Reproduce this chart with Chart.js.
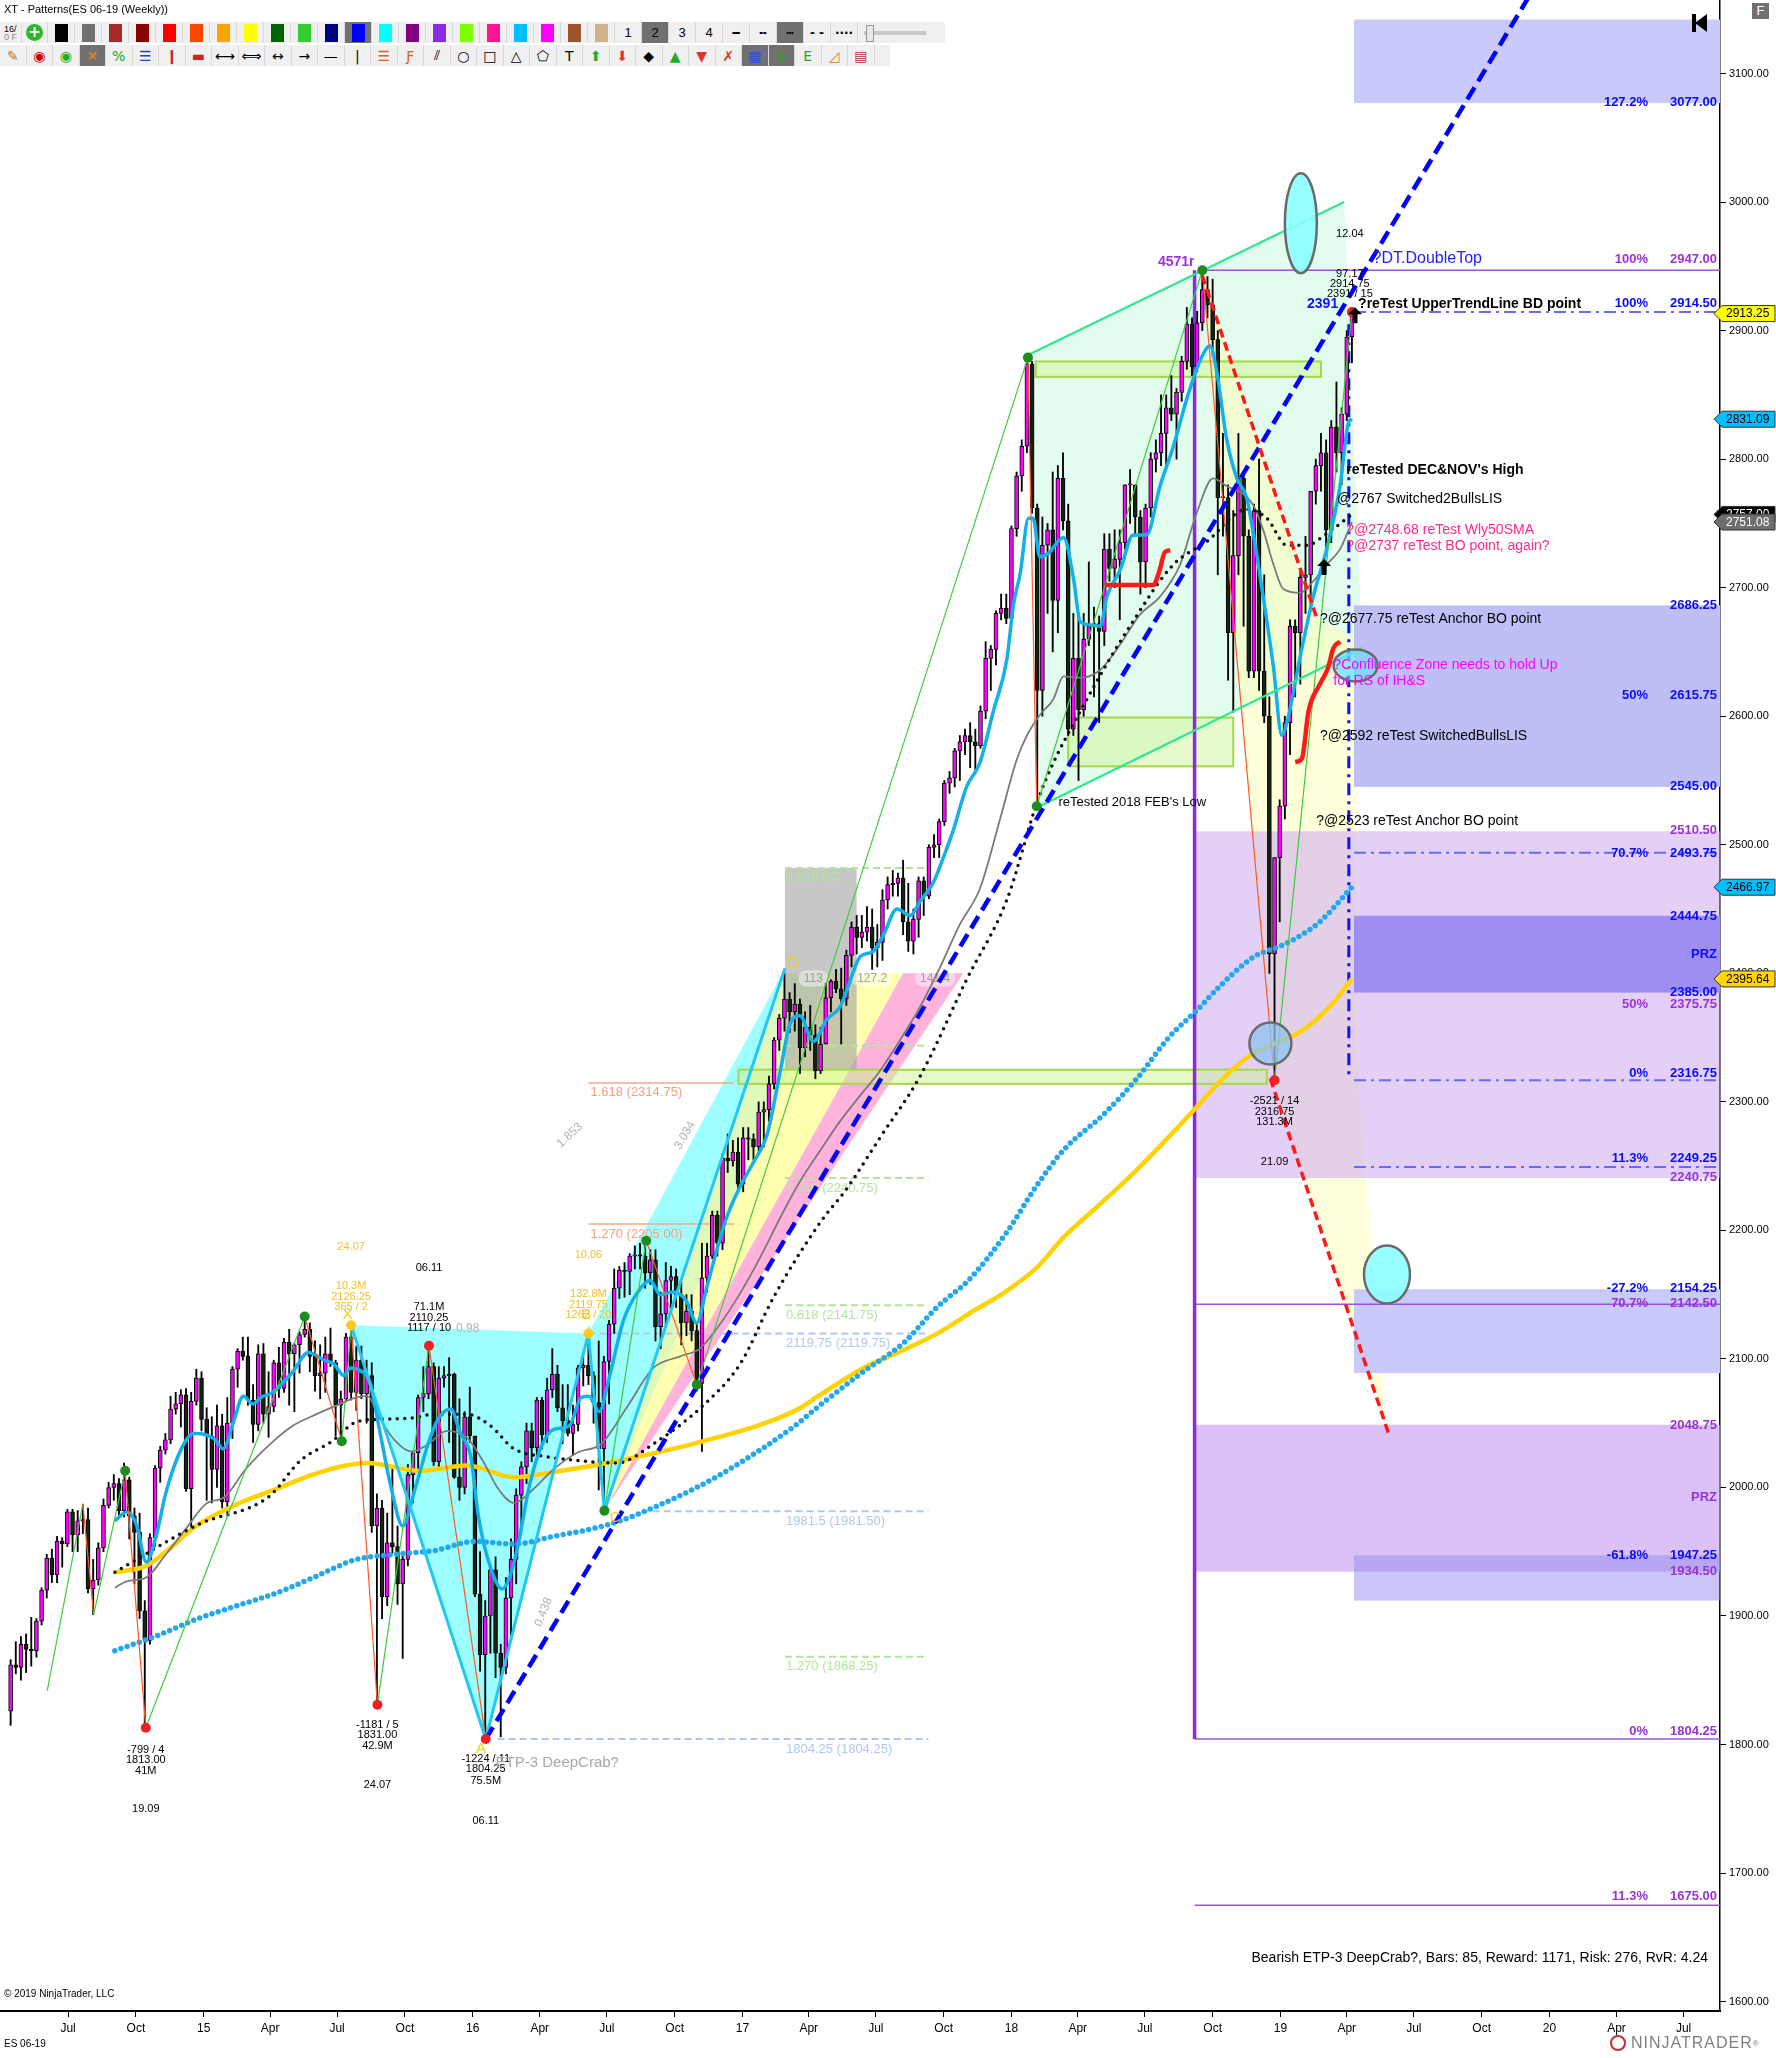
<!DOCTYPE html>
<html>
<head>
<meta charset="utf-8">
<title>XT - Patterns(ES 06-19 (Weekly))</title>
<script src="https://cdn.jsdelivr.net/npm/chart.js@4.4.1/dist/chart.umd.min.js"></script>
<style>
  html, body { margin: 0; padding: 0; background: #fff; }
  #page { position: relative; width: 1776px; height: 2058px; overflow: hidden; font-family: "Liberation Sans", Arial, sans-serif; }
  #chart { position: absolute; left: 0; top: 0; }
  #title { position: absolute; left: 4px; top: 3px; font-size: 11px; color: #000; }
  .row { position: absolute; left: 0; height: 21px; background: #f0f0f0; display: flex; align-items: center; }
  #row1 { top: 22px; width: 945px; }
  #row2 { top: 45px; width: 890px; }
  .cell { width: 27px; height: 21px; display: flex; align-items: center; justify-content: center; box-sizing: border-box; border-right: 1px solid #dadada; font-size: 14px; font-family: "DejaVu Sans", sans-serif; }
  .cell.sel { background: #707070; }
  .sw { width: 13px; height: 18px; }
  #slider { width: 72px; height: 21px; position: relative; }
  #slider .track { position: absolute; left: 6px; right: 4px; top: 9px; height: 4px; background: #c8c8c8; }
  #slider .thumb { position: absolute; left: 8px; top: 3px; width: 6px; height: 15px; background: #e8e8e8; border: 1px solid #999; }
  #navk { position: absolute; left: 1690px; top: 13px; width: 20px; height: 20px; }
  #navk .bar { position: absolute; left: 2px; top: 1px; width: 4px; height: 18px; background: #000; }
  #navk .tri { position: absolute; left: 5px; top: 1px; width: 0; height: 0; border-top: 9px solid transparent; border-bottom: 9px solid transparent; border-right: 12px solid #000; }
  #fbox { position: absolute; left: 1752px; top: 3px; width: 17px; height: 16px; background: #707070; color: #fff; font-size: 13px; text-align: center; line-height: 16px; }
  #copy { position: absolute; left: 4px; top: 1988px; font-size: 10px; color: #000; }
  #inst { position: absolute; left: 4px; top: 2038px; font-size: 10px; color: #000; }
  #logo { position: absolute; left: 1610px; top: 2034px; display: flex; align-items: center; color: #808080; font-size: 16px; letter-spacing: 1px; }
  #logo .ring { width: 12px; height: 12px; border: 2px solid #c03030; border-radius: 50%; margin-right: 5px; }
</style>
</head>
<body>
<div id="page">
  <canvas id="chart" width="1776" height="2058"></canvas>
  <div id="title">XT - Patterns(ES 06-19 (Weekly))</div>
  <div class="row" id="row1"></div>
  <div class="row" id="row2"></div>
  <div id="navk"><div class="bar"></div><div class="tri"></div></div>
  <div id="fbox">F</div>
  <div id="copy">© 2019 NinjaTrader, LLC</div>
  <div id="inst">ES 06-19</div>
  <div id="logo"><div class="ring"></div>NINJATRADER<sup style="font-size:8px">®</sup></div>
</div>
<script>
// weekly bars [open, high, low, close]; first bar = week of 14 Apr 2014
const bars2014 = [
  [1826,1866,1815,1862],[1862,1880,1855,1860],[1860,1884,1850,1878],[1878,1886,1856,1874],
  [1874,1899,1861,1873],[1873,1898,1868,1896],[1896,1922,1893,1920],[1920,1948,1914,1945],
  [1945,1952,1926,1932],[1932,1962,1926,1958],[1958,1961,1938,1956],[1956,1983,1954,1981],
  [1981,1983,1950,1963],[1963,1982,1950,1974],[1974,1987,1964,1975],[1975,1984,1918,1921],
  [1921,1944,1901,1928],[1928,1957,1924,1953],[1953,1991,1950,1986],[1986,2004,1984,2000],
  [2000,2010,1990,2003],[2003,2007,1977,1982],[1982,2019,1977,2006],[2006,2008,1960,1978],
  [1978,1984,1925,1965],[1965,1980,1898,1904],[1904,1912,1813,1881],[1881,1964,1878,1961],
  [1961,2017,1954,2015],[2015,2032,2004,2029],[2029,2042,2026,2037],[2037,2071,2034,2061],
  [2061,2074,2057,2065],[2065,2076,2047,2072],[2072,2077,1997,1999],[1999,2074,1969,2067],
  [2067,2092,2064,2085],[2085,2090,2044,2053]
];
const bars2015 = [
  [2053,2062,1990,2040],[2040,2055,1988,2014],[2014,2064,2000,2048],[2048,2057,1984,1989],
  [1989,2070,1980,2050],[2050,2094,2038,2092],[2092,2108,2078,2106],[2106,2117,2099,2102],
  [2102,2117,2064,2068],[2068,2080,2035,2049],[2049,2111,2044,2104],[2104,2112,2050,2057],
  [2057,2090,2039,2063],[2063,2099,2059,2097],[2097,2109,2070,2077],[2077,2116,2074,2113],
  [2113,2123,2064,2104],[2104,2112,2059,2111],[2111,2121,2089,2119],[2119,2133,2117,2123],
  [2123,2128,2090,2102],[2102,2114,2075,2087],[2087,2111,2069,2089],[2089,2117,2074,2104],
  [2104,2124,2094,2097],[2097,2099,2040,2064],[2064,2075,2035,2069],[2069,2120,2067,2117],
  [2117,2126.25,2068,2074],[2074,2110,2060,2099],[2099,2110,2069,2073],[2073,2099,2050,2087],
  [2087,2097,1965,1970],[1970,1995,1831,1984],[1984,1990,1898,1915],[1915,1980,1908,1957],
  [1957,2015,1949,1954],[1954,1970,1909,1925],[1925,1950,1867,1944],[1944,2018,1939,2010],
  [2010,2028,1988,2027],[2027,2072,2014,2070],[2070,2094,2059,2073],[2073,2110.25,2069,2094],
  [2094,2097,2017,2020],[2020,2094,2014,2085],[2085,2094,2078,2087],[2087,2101,2035,2088],
  [2088,2089,2007,2008],[2008,2069,1990,2000],[2000,2059,1995,2055],[2055,2078,2035,2040]
];
const bars2016 = [
  [2040,2040,1915,1917],[1917,1950,1857,1870],[1870,1912,1804.25,1900],[1900,1940,1871,1936],
  [1936,1946,1852,1871],[1871,1878,1806,1860],[1860,1930,1855,1914],[1914,1960,1885,1944],
  [1944,1999,1925,1994],[1994,2020,1968,2016],[2016,2050,2003,2044],[2044,2050,2020,2031],
  [2031,2070,2021,2068],[2068,2070,2030,2041],[2041,2085,2035,2076],[2076,2108,2070,2088],
  [2088,2095,2059,2062],[2062,2080,2034,2052],[2052,2080,2040,2042],[2042,2064,2025,2049],
  [2049,2095,2044,2093],[2093,2102,2079,2095],[2095,2119.75,2080,2087],[2087,2090,2050,2066],
  [2066,2114,1998,2030],[2030,2102,1982,2098],[2098,2130,2065,2127],[2127,2170,2120,2155],
  [2155,2172,2147,2169],[2169,2175,2148,2168],[2168,2182,2150,2180],[2180,2188,2170,2181],
  [2181,2190,2170,2180],[2180,2190,2155,2167],[2167,2185,2158,2177],[2177,2185,2114,2125],
  [2125,2152,2108,2135],[2135,2175,2125,2161],[2161,2172,2139,2164],[2164,2170,2140,2150],
  [2150,2160,2111,2128],[2128,2150,2118,2137],[2137,2150,2114,2122],[2122,2128,2075,2081],
  [2081,2190,2028,2163],[2163,2190,2152,2180],[2180,2215,2178,2212],[2212,2215,2180,2190],
  [2190,2260,2185,2256],[2256,2275,2245,2254],[2254,2270,2250,2261],[2261,2272,2230,2236]
];
const bars2017 = [
  [2236,2280,2230,2272],[2272,2280,2255,2271],[2271,2275,2255,2265],[2265,2300,2260,2292],
  [2292,2300,2265,2294],[2294,2320,2285,2314],[2314,2350,2310,2348],[2348,2368,2340,2365],
  [2365,2400,2355,2380],[2380,2385,2354,2370],[2370,2392,2355,2376],[2376,2380,2322,2342],
  [2342,2370,2335,2358],[2358,2375,2340,2352],[2352,2360,2318,2324],[2324,2358,2322,2345],
  [2345,2392,2345,2381],[2381,2395,2370,2394],[2394,2403,2385,2388],[2388,2404,2345,2380],
  [2380,2418,2375,2414],[2414,2440,2405,2436],[2436,2445,2415,2428],[2428,2445,2420,2432],
  [2432,2452,2425,2436],[2436,2450,2403,2420],[2420,2438,2405,2424],[2424,2465,2410,2457],
  [2457,2475,2450,2469],[2469,2480,2460,2470],[2470,2478,2460,2474],[2474,2488,2430,2440],
  [2440,2470,2417,2425],[2425,2450,2415,2442],[2442,2475,2428,2472],[2472,2475,2445,2460],
  [2460,2500,2458,2498],[2498,2508,2490,2500],[2500,2520,2490,2518],[2518,2550,2515,2548],
  [2548,2557,2540,2552],[2552,2575,2545,2573],[2573,2585,2550,2580],[2580,2590,2570,2585],
  [2585,2595,2560,2580],[2580,2590,2555,2577],[2577,2608,2575,2604],[2604,2658,2598,2645],
  [2645,2655,2620,2652],[2652,2682,2640,2680],[2680,2695,2675,2684],[2684,2695,2672,2676]
];
const bars2018 = [
  [2676,2748,2672,2746],[2746,2790,2740,2787],[2787,2815,2775,2810],[2810,2878.5,2805,2874],
  [2874,2876,2758,2762],[2762,2765,2529,2620],[2620,2755,2600,2733],[2733,2750,2680,2745],
  [2745,2790,2650,2690],[2690,2795,2665,2785],[2785,2805,2745,2752],[2752,2765,2585,2590],
  [2590,2680,2585,2645],[2645,2680,2550,2605],[2605,2680,2600,2660],[2660,2720,2655,2670],
  [2670,2685,2615,2672],[2672,2678,2595,2666],[2666,2742,2655,2730],[2730,2742,2705,2715],
  [2715,2745,2700,2722],[2722,2745,2675,2735],[2735,2780,2730,2780],[2780,2792,2750,2780],
  [2780,2780,2740,2755],[2755,2760,2695,2720],[2720,2765,2700,2762],[2762,2805,2755,2800],
  [2800,2815,2790,2805],[2805,2850,2795,2820],[2820,2850,2795,2840],[2840,2865,2830,2835],
  [2835,2855,2800,2852],[2852,2880,2845,2876],[2876,2918,2870,2905],[2905,2910,2865,2872],
  [2872,2915,2868,2906],[2906,2947,2900,2932],[2932,2942,2910,2920],[2920,2940,2880,2893],
  [2893,2900,2710,2770],[2770,2820,2740,2770],[2770,2780,2628,2665],[2665,2760,2603,2725],
  [2725,2820,2710,2785],[2785,2790,2670,2740],[2740,2745,2630,2635],[2635,2765,2630,2760],
  [2760,2800,2620,2635],[2635,2710,2595,2600],[2600,2615,2400,2415],[2415,2490,2316.75,2490],
  [2490,2535,2440,2530]
];
const bars2019 = [
  [2530,2600,2520,2595],[2595,2675,2570,2670],[2670,2675,2615,2665],[2665,2715,2625,2708],
  [2708,2740,2680,2710],[2710,2775,2685,2775],[2775,2800,2765,2795],[2795,2820,2775,2805],
  [2805,2815,2725,2745],[2745,2830,2735,2825],[2825,2860,2790,2805],[2805,2840,2780,2835],
  [2835,2900,2830,2895],[2895,2914.5,2875,2913.25]
];

// indicator lines: [week, value]
const cyanAvg = [[20.2,1974],[22.5,1981],[24.4,1971],[26.3,1942],[28.2,1962],[30.1,1996],[33.2,2031],[35.5,2042],[37.8,2041],[39.7,2037],[41.2,2030],[43.2,2051],[45.1,2071],[47,2065],[48.5,2070],[50.8,2074],[54.7,2090],[57.7,2105],[60.8,2099],[62.7,2096],[64.6,2087],[65.8,2093],[67.7,2091],[69.6,2082],[71.5,2045],[73.8,1999],[76,1970],[78.4,1999],[81.1,2036],[83,2054],[85.3,2061],[87.2,2042],[89.2,2024],[90.7,1977],[93,1938],[95.3,1921],[96.8,1931],[98.4,1956],[100.6,2002],[103,2033],[105.2,2045],[108.3,2048],[110.6,2070],[112.1,2071],[114.1,2059],[116,2085],[118.8,2130],[121.4,2151],[124,2161],[125.9,2150],[128.5,2152],[131,2145],[133,2128],[134.9,2155],[136.9,2185],[138.8,2210],[141.4,2234],[144,2253],[146.6,2274],[149.2,2324],[151.1,2361],[153,2367],[155.6,2347],[158.2,2364],[160.8,2374],[162.7,2394],[164.7,2413],[167.2,2417],[169.2,2430],[171.8,2450],[174.4,2445],[176.3,2456],[178.9,2471],[180.8,2490],[182.7,2511],[185.3,2545],[187.9,2564],[190.5,2604],[193.1,2644],[194.4,2687],[195.7,2711],[197.3,2754],[198.2,2754],[199.5,2724],[201.2,2727],[204.1,2739],[206,2708],[207.3,2674],[209.2,2671],[211.2,2670],[212.5,2693],[215.1,2714],[217.6,2741],[220.2,2741],[222.8,2779],[225.4,2810],[228,2847],[230.6,2877],[232.5,2888],[233.8,2868],[235.7,2816],[237.7,2785],[239.6,2770],[240.9,2742],[242.8,2693],[244.8,2638],[246.4,2585],[247.4,2595],[250,2647],[252.5,2693],[255.1,2730],[257.7,2779],[259.3,2828],[260,2831.09]];
const grayAvg = [[20.2,1922],[22.5,1927],[26.3,1930],[30.1,1948],[34,1968],[37.8,1987],[41.6,1993],[45.5,2014],[50.1,2033],[54.7,2048],[59.3,2057],[63.9,2065],[67,2070],[69.2,2071],[71.5,2054],[74.6,2036],[77.7,2028],[80.7,2033],[84.6,2044],[88.4,2039],[91.5,2021],[94.5,1999],[97.6,1988],[101.4,1999],[105.2,2014],[109.8,2027],[114.5,2034],[119.4,2062],[124.6,2093],[129.8,2102],[133.6,2108],[137.5,2127],[141.4,2151],[145.3,2179],[149.2,2210],[153,2238],[156.9,2262],[160.8,2285],[164.7,2305],[168.5,2324],[172.4,2348],[176.3,2374],[180.2,2405],[184,2438],[187.9,2466],[191.8,2520],[195,2566],[197,2585],[199.5,2601],[202.1,2613],[204.1,2631],[207.3,2630],[211.2,2636],[215.1,2656],[218.9,2679],[222.8,2693],[226.7,2718],[229.9,2758],[233.1,2785],[235.7,2779],[238.9,2773],[240.9,2764],[242.8,2745],[244.8,2718],[246.7,2699],[250,2696],[252.5,2705],[255.1,2718],[257.7,2730],[260,2751.08]];
const blackDotAvg = [[20.2,1934],[36.3,1971],[50.1,1993],[56.2,2021],[62.3,2036],[67,2051],[71.5,2053],[77.7,2054],[82.3,2057],[88.4,2057],[93,2048],[97.6,2030],[103.7,2024],[109.8,2021],[117.5,2019],[125,2035],[134.3,2064],[141.4,2096],[147.9,2148],[156.9,2206],[162,2232],[168.5,2272],[176.3,2320],[185.3,2395],[193.1,2457],[199.5,2539],[208.6,2613],[217.6,2674],[225.4,2718],[231.9,2736],[239.6,2761],[243.5,2754],[247.4,2733],[251.2,2733],[255.1,2742],[260,2757]];
const cyanDotAvg = [[20.2,1873],[28.6,1885],[36.3,1898],[43.9,1908],[51.6,1918],[59.3,1931],[67,1944],[74.6,1948],[82.3,1951],[89.9,1958],[97.6,1956],[105.2,1962],[112.9,1968],[118.1,1974],[125,1985],[133,2000],[140.1,2016],[151.7,2047],[156.9,2064],[165.3,2090],[173.1,2112.5],[179.5,2140],[186,2162.5],[193.1,2198.6],[198.9,2234.8],[204.1,2262.5],[211.8,2290],[218.3,2318],[224.7,2351],[229.9,2371],[234.4,2390],[240.9,2412.6],[246,2421],[249,2427],[253.5,2439],[260,2466.97]];
const goldAvg = [[20.2,1934],[26.3,1939],[30.1,1950],[36.3,1971],[43.9,1987],[51.6,1999],[59.3,2011],[69.2,2019],[79.2,2013],[88.4,2017],[97.6,2008],[106.8,2013],[118.1,2021],[134.3,2036],[151.7,2059],[156.9,2072],[165.3,2093],[173.1,2107],[179.5,2119.5],[187.3,2139],[192.4,2151],[198.9,2171],[204.1,2194.5],[210.5,2218],[217,2242],[224.1,2271],[229.9,2296],[235.7,2321],[240.9,2337.5],[246,2347],[249.8,2354],[255.7,2374],[260,2395.64]];

// swing points (zigzag) and drawn objects, in [week, price]
const zigzag = [[7.1,1842],[14,1987],[16.1,1901],[22.2,2013],[26.2,1813],[57,2133],[64.2,2036],[66,2126.25],[71.1,1831],[81.1,2110.25],[92.1,1804.25],[112,2119.75],[115.1,1982],[123.2,2192],[133,2080],[197.2,2879],[198.9,2530],[231,2947],[245,2316.75],[260,2914.5]];
const crabLegs = [[66,2126.25],[92.1,1804.25],[112,2119.75],[115.1,1982],[150.1,2404]];
const trendLine = [[92.1,1804.25],[300,3198]];
const channelUpper = [[197.2,2881],[258.5,3000]];
const channelLower = [[199.5,2530],[262,2653]];
const redDash1 = [[231,2942.7],[253.1,2677.3]];
const redDash2 = [[244.2,2318],[267.1,2042]];
const redCurve1 = [[212.1,2702],[218,2702],[221.5,2702],[222.6,2712],[223.8,2728],[224.8,2729]];
const redCurve2 = [[249,2564.4],[250.3,2567],[251.6,2604],[253.8,2625],[255.4,2638],[256.4,2653],[257.7,2658]];
const greenDots = [[22.2,2013],[57,2133],[64.2,2036],[115.1,1982],[123.2,2192],[133,2080],[197.2,2879],[198.9,2530],[231,2947]];
const redDots = [[26.2,1813],[71.1,1831],[81.1,2110.25],[92.1,1804.25],[245,2316.75],[260,2914.5]];
const yellowDots = [[66,2126.25],[112,2119.75]];

const mintChannel = [[197.2,2881],[258.5,3000],[262,2653],[199.5,2530]];
const paleArea = [[231,2947],[253.1,2677.3],[260.3,2660],[261.2,2316.75],[266.7,2044],[245,2316.75]];
const fanTop = 2400;
const fanTips = [[150.1,158.5],[158.5,173],[173,184.7]];
const fanLabels = [[155.6,'113'],[167,'127.2'],[179.2,'141.4']];
const grayBox = [150.1,164,2482,2325];
const supplyBoxes = [[198.7,254,2876,2864],[205,237,2599,2561],[141.1,243.5,2325,2314]];
// [startWeek, upper, lower, kind]
const zones = [
  [260.4,3142,3077,'blue'],[260.4,2686.25,2545,'blue2'],[229.5,2510.5,2240.75,'purple'],
  [260.4,2444.75,2385,'prz'],[260.4,2154.25,2089,'blue'],[229.5,2048.75,1934.5,'purple2'],
  [260.4,1947.25,1912,'blue3']
];
// [startWeek, price, kind]
const levelLines = [[231,2947,'purple'],[260.4,2914.5,'dashdot'],[260.4,2493.75,'dashdot'],[260.4,2316.75,'dashdot'],[260.4,2249.25,'dashdot'],[229.5,2142.5,'purple'],[229.5,1804.25,'purple'],[229.5,1675,'purple']];
// [percent, value, price, colour kind]
const levelLabels = [
  ['127.2%','3077.00',3077.5,'b'],['100%','2947.00',2955,'p'],['100%','2914.50',2921,'b'],
  ['','2686.25',2686.5,'b'],['50%','2615.75',2616,'b'],['','2545.00',2545.5,'b'],
  ['','2510.50',2510.8,'p'],['70.7%','2493.75',2493.5,'b'],['','2444.75',2444.5,'b'],
  ['','PRZ',2415,'b'],['','2385.00',2385.2,'b'],['50%','2375.75',2376,'p'],
  ['0%','2316.75',2322,'b'],['11.3%','2249.25',2255.6,'b'],['','2240.75',2241,'p'],
  ['-27.2%','2154.25',2154.5,'b'],['70.7%','2142.50',2143,'p'],['','2048.75',2048.3,'p'],
  ['','PRZ',1992,'p'],['-61.8%','1947.25',1947,'b'],['','1934.50',1935,'p'],
  ['0%','1804.25',1810.3,'p'],['11.3%','1675.00',1681.7,'p']
];
// [fromWeek, toWeek, price, label, kind]
const fibLines = [
  [150.1,177.9,2482,'3.618 BC','g'],[150.1,177.9,2343.7,'','g'],[150.1,177.9,2240.75,'0.786 (2240.75)','g'],
  [150.1,177.9,2141.75,'0.618 (2141.75)','g'],[112,177.9,2119.75,'2119.75 (2119.75)','l'],
  [122.3,177.9,1981.5,'1981.5 (1981.50)','l'],[150.1,177.9,1868.25,'1.270 (1868.25)','g'],
  [94.4,177.9,1804.25,'1804.25 (1804.25)','l'],[112,140.2,2314.75,'1.618 (2314.75)','s'],
  [112,140.2,2205,'1.270 (2205.00)','s']
];
// [week, price, text, style]
const notes = [
  [258.9,2791.6,"reTested DEC&NOV's High",'bold'],[257.1,2769,'@2767 Switched2BullsLIS','plain'],
  [258.9,2744.7,'?@2748.68 reTest Wly50SMA','pink'],[258.9,2732.4,'?@2737 reTest BO point, again?','pink'],
  [253.8,2675.2,'?@2677.75 reTest Anchor BO point','plain'],[256.4,2639.5,'?Confluence Zone needs to hold Up','magenta'],
  [256.4,2627.2,'for RS of IH&S','magenta'],[253.8,2584.3,'?@2592 reTest SwitchedBullsLIS','plain'],
  [253.1,2518,'?@2523 reTest Anchor BO point','plain'],[203.1,2533.3,"reTested 2018 FEB's Low",'small'],
  [264,2956,'?DT.DoubleTop','blue'],[261.2,2920.3,'?reTest UpperTrendLine BD point','bold'],
  [251.3,2920.3,'2391','blueBold'],[222.4,2953,'4571r','purpleBold'],[94,1785.8,'ETP-3 DeepCrab?','gray']
];
// swing captions [week, colour kind, [price, text]...]
const swingCaptions = [
  [26.2,'k',[[1796,'-799 / 4'],[1787.9,'1813.00'],[1779.7,'41M'],[1750.1,'19.09']]],
  [71.1,'k',[[1815.5,'-1181 / 5'],[1807.3,'1831.00'],[1799.1,'42.9M'],[1768.5,'24.07']]],
  [92.1,'k',[[1788.9,'-1224 / 11'],[1780.7,'1804.25'],[1771.5,'75.5M'],[1740.9,'06.11']]],
  [81.1,'k',[[2140.2,'71.1M'],[2132,'2110.25'],[2123.8,'1117 / 10'],[2170.8,'06.11']]],
  [66,'y',[[2156.5,'10.3M'],[2148.3,'2126.25'],[2140.2,'365 / 2'],[2187.1,'24.07']]],
  [112,'y',[[2150.4,'132.8M'],[2142.2,'2119.75'],[2134,'1262 / 20'],[2181,'10.06']]],
  [245,'k',[[2300.5,'-2521 / 14'],[2292.3,'2316.75'],[2284.1,'131.3M'],[2253.5,'21.09']]],
  [259.6,'k',[[2975.4,'12.04'],[2944,'97.17'],[2936.6,'2914.75'],[2928.5,'2391 / 15']]]
];
const patternLetters = [[65.3,2134,'X'],[91.2,1797,'A'],[111.6,2134,'B'],[117.2,1976,'C'],[151.7,2408,'D']];
// [week, price, radiusX, radiusY, kind]
const ellipses = [[250.1,2983.6,16,50,'cyan'],[260.7,2639.5,22,16,'sky'],[244.2,2345.4,21,21,'pale'],[266.8,2165.7,23,29,'cyan']];
const priceTags = [[2913.25,'#ffff00','#000'],[2831.09,'#00bfff','#000'],[2757.00,'#000000','#fff'],[2751.08,'#6e6e6e','#fff'],[2466.97,'#00bfff','#000'],[2395.64,'#ffd700','#000']];

const tickLabels = ['Jul','Oct','15','Apr','Jul','Oct','16','Apr','Jul','Oct','17','Apr','Jul','Oct','18','Apr','Jul','Oct','19','Apr','Jul','Oct','20','Apr','Jul'];
const priceTicks = [1600,1700,1800,1900,2000,2100,2200,2300,2400,2500,2600,2700,2800,2900,3000,3100];

const W0 = Date.UTC(2014, 3, 14);
const WEEK = 7 * 864e5;
const tickWeeks = tickLabels.map((_, k) => (Date.UTC(2014, 6 + 3 * k, 1) - W0) / WEEK);
const X_MIN = -2.06, X_MAX = 331.35, Y_MIN = 1592.7, Y_MAX = 3157.2;

const bars = [].concat(bars2014, bars2015, bars2016, bars2017, bars2018, bars2019);
const pts = arr => arr.map(([x, y]) => ({x, y}));
const FONT = (size, bold) => (bold ? 'bold ' : '') + size + 'px "Liberation Sans", Arial, sans-serif';

// ---------- toolbar ----------
(function buildToolbar() {
  const r1 = document.getElementById('row1');
  const r2 = document.getElementById('row2');
  const add = (row, html, cls, w) => {
    const d = document.createElement('div');
    d.className = 'cell' + (cls ? ' ' + cls : '');
    if (w) d.style.width = w + 'px';
    d.innerHTML = html;
    row.appendChild(d);
  };
  add(r1, '<span style="font-size:9px;font-family:Liberation Sans;line-height:8px">16/<br><span style="color:#888">0 F</span></span>', '', 22);
  add(r1, '<span style="display:inline-block;width:17px;height:17px;border-radius:50%;background:#2db52d;color:#fff;font-size:15px;line-height:17px;text-align:center;font-weight:bold">+</span>', '', 26);
  ['#000','#707070','#a52a2a','#8b0000','#ff0000','#ff4500','#ffa500','#ffff00','#006400','#32cd32','#000080','#0000ff','#00ffff','#800080','#8a2be2','#7fff00','#ff1493','#00bfff','#ff00ff','#a0522d','#d2b48c']
    .forEach((c, i) => add(r1, '<div class="sw" style="background:' + c + '"></div>', i === 11 ? 'sel' : ''));
  ['1','2','3','4'].forEach((n, i) => add(r1, '<span style="font-family:Liberation Sans;font-size:13px">' + n + '</span>', i === 1 ? 'sel' : ''));
  ['━','╍','┅','- -','····'].forEach((s, i) => add(r1, '<span style="font-size:12px;font-weight:bold">' + s + '</span>', i === 2 ? 'sel' : ''));
  const sl = document.createElement('div');
  sl.id = 'slider';
  sl.innerHTML = '<div class="track"></div><div class="thumb"></div>';
  r1.appendChild(sl);
  const icons = [
    ['✎','#c07830'],['◉','#c00'],['◉','#2a2'],['✕','#f08020','sel'],['%','#1a1'],['☰','#2040c0'],['❙','#d02020'],['▬','#d02020'],
    ['⟷','#000'],['⟺','#000'],['↔','#000'],['→','#000'],['—','#000'],['|','#000'],['☰','#e06020'],['Ƒ','#e06020'],
    ['⫽','#000'],['○','#000'],['□','#000'],['△','#000'],['⬠','#000'],['T','#000'],['⬆','#2a2'],['⬇','#e03030'],
    ['◆','#000'],['▲','#2a2'],['▼','#e03030'],['✗','#e03030'],['▦','#3050d0','sel'],['$','#2a2','sel'],['Ε','#20a040'],['◿','#e08020'],['▤','#c03030']
  ];
  icons.forEach(([g, c, s]) => add(r2, '<span style="color:' + c + '">' + g + '</span>', s || '', 26.5));
})();

// ---------- drawing layer ----------
function path(ctx, P, list) {
  ctx.beginPath();
  list.forEach(([w, p], i) => { const [xx, yy] = P(w, p); if (i) ctx.lineTo(xx, yy); else ctx.moveTo(xx, yy); });
  ctx.closePath();
}
function text(ctx, s, xx, yy, font, color, align) {
  ctx.font = font; ctx.fillStyle = color; ctx.textAlign = align || 'left'; ctx.textBaseline = 'middle';
  ctx.fillText(s, xx, yy);
}

const zoneColors = { blue: '#c9c9fa', blue2: '#bfbff8', purple: 'rgba(205,170,240,0.55)', prz: '#9d8ef3', purple2: 'rgba(200,160,240,0.65)', blue3: 'rgba(150,140,240,0.5)' };
const fanColors = ['rgba(200,245,140,0.6)', 'rgba(255,255,150,0.75)', 'rgba(255,160,210,0.8)'];
const noteStyles = {
  bold: [FONT(14, true), '#000'], plain: [FONT(14), '#000'], pink: [FONT(14), '#ff2a8a'], magenta: [FONT(14), '#ff00ff'],
  small: [FONT(13), '#000'], blue: [FONT(16), '#2020ff'], blueBold: [FONT(14, true), '#1010ff'], purpleBold: [FONT(14, true), '#9932e0'],
  gray: [FONT(15), '#a8a8a8']
};

const drawingLayer = {
  id: 'drawingLayer',
  beforeDatasetsDraw(chart) {
    const {ctx, chartArea: a, scales: {x, y}} = chart;
    const P = (w, p) => [x.getPixelForValue(w), y.getPixelForValue(p)];
    ctx.save();
    ctx.beginPath(); ctx.rect(a.left, a.top, a.right - a.left, a.bottom - a.top); ctx.clip();

    path(ctx, P, mintChannel); ctx.fillStyle = 'rgba(190,250,215,0.45)'; ctx.fill();
    path(ctx, P, paleArea); ctx.fillStyle = 'rgba(255,255,185,0.55)'; ctx.fill();

    zones.forEach(([w0, top, bot, kind]) => {
      const [x0, y0] = P(w0, top); const y1 = y.getPixelForValue(bot);
      ctx.fillStyle = zoneColors[kind]; ctx.fillRect(x0, y0, a.right - x0, y1 - y0);
    });

    // crab pattern triangles and fib fan
    const [X, A, B, C, D] = crabLegs;
    ctx.fillStyle = 'rgba(140,255,255,0.85)';
    path(ctx, P, [X, A, B]); ctx.fill();
    path(ctx, P, [B, C, D]); ctx.fill();
    fanTips.forEach(([w1, w2], i) => { path(ctx, P, [C, [w1, fanTop], [w2, fanTop]]); ctx.fillStyle = fanColors[i]; ctx.fill(); });
    {
      const [gx0, gy0] = P(grayBox[0], grayBox[2]); const [gx1, gy1] = P(grayBox[1], grayBox[3]);
      ctx.fillStyle = 'rgba(165,165,165,0.62)'; ctx.fillRect(gx0, gy0, gx1 - gx0, gy1 - gy0);
    }
    fanLabels.forEach(([w, s]) => {
      const [lx, ly] = P(w, fanTop - 4);
      ctx.font = FONT(12); const tw = ctx.measureText(s).width;
      ctx.fillStyle = 'rgba(255,255,255,0.45)';
      ctx.beginPath(); ctx.roundRect(lx - tw / 2 - 5, ly - 8, tw + 10, 16, 7); ctx.fill();
      text(ctx, s, lx, ly, FONT(12), '#a0a0a0', 'center');
    });

    supplyBoxes.forEach(([w0, w1, top, bot]) => {
      const [x0, y0] = P(w0, top); const [x1, y1] = P(w1, bot);
      ctx.fillStyle = 'rgba(205,245,150,0.5)'; ctx.fillRect(x0, y0, x1 - x0, y1 - y0);
      ctx.strokeStyle = '#a6d64a'; ctx.lineWidth = 2; ctx.strokeRect(x0, y0, x1 - x0, y1 - y0);
    });

    fibLines.forEach(([w0, w1, p, s, kind]) => {
      const [x0, yy] = P(w0, p); const x1 = x.getPixelForValue(w1);
      const col = kind === 'g' ? '#b0e69a' : kind === 'l' ? '#b0c6f2' : '#f4a888';
      ctx.strokeStyle = col; ctx.lineWidth = kind === 's' ? 1.5 : 2; ctx.setLineDash(kind === 's' ? [] : [7, 4]);
      ctx.beginPath(); ctx.moveTo(x0, yy); ctx.lineTo(x1, yy); ctx.stroke(); ctx.setLineDash([]);
      if (s) {
        const lx = kind === 's' ? x0 + 2 : x.getPixelForValue(150.3);
        text(ctx, s, lx, yy + 10, FONT(13), kind === 's' ? '#f4a080' : col, 'left');
      }
    });

    levelLines.forEach(([w0, p, kind]) => {
      const [x0, yy] = P(w0, p);
      ctx.beginPath(); ctx.moveTo(x0, yy); ctx.lineTo(a.right, yy);
      if (kind === 'purple') { ctx.strokeStyle = '#a050e0'; ctx.lineWidth = 1.5; ctx.setLineDash([]); }
      else { ctx.strokeStyle = '#6a6af8'; ctx.lineWidth = 2; ctx.setLineDash([12, 5, 3, 5]); }
      ctx.stroke(); ctx.setLineDash([]);
    });

    // purple vertical of the pattern and blue dash-dot projection
    {
      const [vx, vy0] = P(229.5, 2947); const vy1 = y.getPixelForValue(1804.25);
      ctx.strokeStyle = '#8a2be2'; ctx.lineWidth = 3.5;
      ctx.beginPath(); ctx.moveTo(vx, vy0); ctx.lineTo(vx, vy1); ctx.stroke();
      const [bx, by0] = P(259.4, 2905); const by1 = y.getPixelForValue(2316.75);
      ctx.strokeStyle = '#1010ff'; ctx.lineWidth = 3; ctx.setLineDash([12, 6, 3, 6]);
      ctx.beginPath(); ctx.moveTo(bx, by0); ctx.lineTo(bx, by1); ctx.stroke(); ctx.setLineDash([]);
    }
    ctx.restore();
  },
  afterDatasetsDraw(chart) {
    const {ctx, chartArea: a, scales: {x, y}} = chart;
    const P = (w, p) => [x.getPixelForValue(w), y.getPixelForValue(p)];
    ctx.save();
    ctx.beginPath(); ctx.rect(a.left, a.top, a.right - a.left, a.bottom - a.top); ctx.clip();

    const eFill = { cyan: 'rgba(140,255,255,0.9)', sky: 'rgba(110,220,255,0.75)', pale: 'rgba(140,195,240,0.75)' };
    ellipses.forEach(([w, p, rx, ry, kind]) => {
      const [cx, cy] = P(w, p);
      ctx.beginPath(); ctx.ellipse(cx, cy, rx, ry, 0, 0, Math.PI * 2);
      ctx.fillStyle = eFill[kind]; ctx.fill();
      ctx.strokeStyle = '#6a6a6a'; ctx.lineWidth = 2.5; ctx.stroke();
    });

    const dot = (list, col) => list.forEach(([w, p]) => {
      const [cx, cy] = P(w, p); ctx.beginPath(); ctx.arc(cx, cy, 5, 0, Math.PI * 2); ctx.fillStyle = col; ctx.fill();
    });
    dot(greenDots, '#1e8c1e'); dot(redDots, '#ee2020'); dot(yellowDots, '#ffc81e');

    // small black arrows
    [[254.6, 2716], [260.6, 2912]].forEach(([w, p]) => {
      const [ax, ay] = P(w, p);
      ctx.fillStyle = '#000'; ctx.beginPath();
      ctx.moveTo(ax, ay - 8); ctx.lineTo(ax + 7, ay - 1); ctx.lineTo(ax + 2.5, ay - 1); ctx.lineTo(ax + 2.5, ay + 8);
      ctx.lineTo(ax - 2.5, ay + 8); ctx.lineTo(ax - 2.5, ay - 1); ctx.lineTo(ax - 7, ay - 1); ctx.closePath(); ctx.fill();
    });

    patternLetters.forEach(([w, p, s]) => { const [lx, ly] = P(w, p); text(ctx, s, lx, ly, FONT(s === 'D' ? 17 : 15), '#f0d020', 'center'); });

    swingCaptions.forEach(([w, kind, lines]) => {
      const lx = x.getPixelForValue(w);
      lines.forEach(([p, s]) => text(ctx, s, lx, y.getPixelForValue(p), FONT(11), kind === 'y' ? '#f5be28' : '#000', 'center'));
    });
    text(ctx, '0.98', x.getPixelForValue(88.6), y.getPixelForValue(2123.8), FONT(12), '#b4b4b4', 'center');
    [[108.4, 2274, '1.853', -0.75], [130.7, 2274, '3.034', -1.05], [103.3, 1903, '0.438', -1.2]].forEach(([w, p, s, r]) => {
      const [lx, ly] = P(w, p);
      ctx.save(); ctx.translate(lx, ly); ctx.rotate(r); text(ctx, s, 0, 0, FONT(12), '#b0b0b0', 'center'); ctx.restore();
    });

    notes.forEach(([w, p, s, st]) => {
      const [lx, ly] = P(w, p); const [f, c] = noteStyles[st];
      text(ctx, s, lx, ly, f, c, 'left');
    });

    const valX = a.right - 3, pctX = a.right - 72;
    levelLabels.forEach(([pct, val, p, kind]) => {
      const yy = y.getPixelForValue(p); const col = kind === 'b' ? '#0a0aff' : '#9932d6';
      text(ctx, val, valX, yy, FONT(13, true), col, 'right');
      if (pct) text(ctx, pct, pctX, yy, FONT(13, true), col, 'right');
    });

    text(ctx, 'Bearish ETP-3 DeepCrab?, Bars: 85, Reward: 1171, Risk: 276, RvR: 4.24', a.right - 12, y.getPixelForValue(1633.7), FONT(14), '#000', 'right');
    ctx.restore();
  },
  afterDraw(chart) {
    const {ctx, chartArea: a, scales: {y}} = chart;
    ctx.save();
    priceTags.forEach(([v, bg, fg]) => {
      const yy = y.getPixelForValue(v); const x0 = a.right - 6;
      ctx.beginPath();
      ctx.moveTo(x0, yy); ctx.lineTo(x0 + 8, yy - 8); ctx.lineTo(1775, yy - 8); ctx.lineTo(1775, yy + 8); ctx.lineTo(x0 + 8, yy + 8); ctx.closePath();
      ctx.fillStyle = bg; ctx.fill(); ctx.strokeStyle = '#333'; ctx.lineWidth = 1; ctx.stroke();
      text(ctx, v.toFixed(2), x0 + 12, yy + 0.5, FONT(12), fg, 'left');
    });
    ctx.restore();
  }
};

const lineSet = (data, color, width, extra) => Object.assign({
  type: 'line', data: pts(data), borderColor: color, borderWidth: width, pointRadius: 0,
  fill: false, cubicInterpolationMode: 'monotone'
}, extra || {});

new Chart(document.getElementById('chart'), {
  type: 'bar',
  data: {
    datasets: [
      { type: 'bar', label: 'wicks', data: bars.map((b, i) => ({x: i, y: [b[2], b[1]]})), backgroundColor: '#000', barThickness: 1.2, grouped: false, order: 20 },
      { type: 'bar', label: 'bodies', data: bars.map((b, i) => ({x: i, y: [b[0], b[3]]})),
        backgroundColor: bars.map(b => b[3] >= b[0] ? '#ff00ff' : '#142214'), borderColor: '#000', borderWidth: 1,
        borderSkipped: false, barThickness: 4, minBarLength: 1, grouped: false, order: 19 },
      lineSet(goldAvg, '#ffd200', 4.5, { order: 16 }),
      lineSet(cyanDotAvg, '#22a8ee', 5.5, { borderDash: [0, 6.5], borderCapStyle: 'round', order: 15 }),
      lineSet(grayAvg, '#7a7a7a', 1.8, { order: 13 }),
      lineSet(blackDotAvg, '#111', 3.5, { borderDash: [0, 7.5], borderCapStyle: 'round', order: 12 }),
      lineSet(cyanAvg, '#14b0ea', 3.5, { order: 11 }),
      lineSet(zigzag, '#3c3', 1.2, { cubicInterpolationMode: 'default', tension: 0, order: 10,
        segment: { borderColor: c => c.p1.parsed.y > c.p0.parsed.y ? '#3ccc3c' : '#ff5a28' } }),
      lineSet(crabLegs, '#22c8f0', 3, { cubicInterpolationMode: 'default', tension: 0, order: 9 }),
      lineSet(channelUpper, '#30e890', 2.2, { order: 8 }),
      lineSet(channelLower, '#30e890', 2.2, { order: 8 }),
      lineSet(trendLine, '#0000ff', 4.5, { borderDash: [14, 7], order: 7 }),
      lineSet(redDash1, '#ff1a1a', 3.5, { borderDash: [9, 5], order: 6 }),
      lineSet(redDash2, '#ff1a1a', 3.5, { borderDash: [9, 5], order: 6 }),
      lineSet(redCurve1, '#ff1a1a', 4.5, { order: 5 }),
      lineSet(redCurve2, '#ff1a1a', 4.5, { order: 5 })
    ]
  },
  options: {
    responsive: false, animation: false, devicePixelRatio: 1, events: [],
    layout: { padding: 0 },
    plugins: { legend: { display: false }, tooltip: { enabled: false } },
    scales: {
      x: {
        type: 'linear', min: X_MIN, max: X_MAX, offset: false,
        afterBuildTicks: s => { s.ticks = tickWeeks.map(v => ({value: v})); },
        afterFit: s => { s.height = 47; s.paddingLeft = 0; s.paddingRight = 0; },
        ticks: { autoSkip: false, maxRotation: 0, padding: 4, color: '#000', font: { family: 'Liberation Sans', size: 12 },
          callback: (v, i) => tickLabels[i] },
        grid: { drawOnChartArea: false, drawTicks: true, tickLength: 6, color: '#000', offset: false },
        border: { display: true, color: '#000', width: 2 }
      },
      y: {
        type: 'linear', position: 'right', min: Y_MIN, max: Y_MAX,
        afterBuildTicks: s => { s.ticks = priceTicks.map(v => ({value: v})); },
        afterFit: s => { s.width = 56; s.paddingTop = 0; s.paddingBottom = 0; },
        ticks: { padding: 3, color: '#000', font: { family: 'Liberation Sans', size: 11 }, callback: v => Number(v).toFixed(2) },
        grid: { drawOnChartArea: false, drawTicks: true, tickLength: 6, color: '#000' },
        border: { display: true, color: '#000', width: 1.5 }
      }
    }
  },
  plugins: [drawingLayer]
});
</script>
</body>
</html>
